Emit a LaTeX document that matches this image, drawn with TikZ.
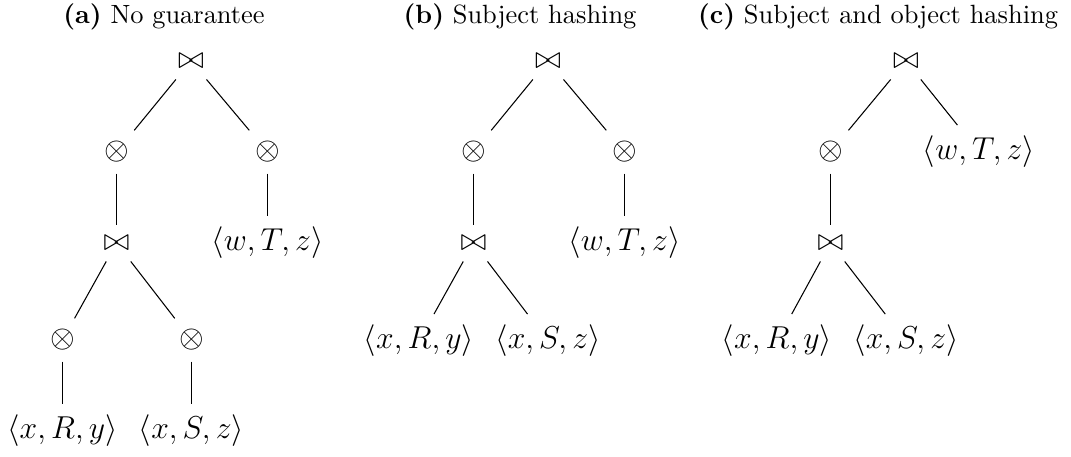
\documentclass[tikz,border=0pt]{standalone}
\usepackage{amsmath}
\begin{document}
\begin{tikzpicture}[x=0.3788pt,y=-0.3788pt,
  op/.style={inner sep=4pt,font=\fontsize{11.5}{14}\selectfont},
  leaf/.style={inner sep=4pt,font=\fontsize{11.5}{14}\selectfont},
  caption/.style={anchor=base,inner sep=0pt,font=\fontsize{10}{12}\selectfont},
  edge/.style={line width=0.4pt}]
\useasboundingbox (0,0) rectangle (1071,456);

% captions
\node[caption] (ta) at (164,23) {\textbf{(a)} No guarantee};
\node[caption] (tb) at (520,23) {\textbf{(b)} Subject hashing};
\node[caption] (tc) at (878,23) {\textbf{(c)} Subject and object hashing};

% (a) no guarantee
\node[op] (a0) at (191,61) {$\bowtie$};
\node[op] (a1) at (116.5,152) {$\otimes$};
\node[op] (a2) at (267.5,152) {$\otimes$};
\node[op] (a3) at (116.5,243) {$\bowtie$};
\node[leaf] (a4) at (267.5,243) {$\langle w, T, z\rangle$};
\node[op] (a5) at (62.5,340) {$\otimes$};
\node[op] (a6) at (191.5,340) {$\otimes$};
\node[leaf] (a7) at (62.5,431) {$\langle x, R, y\rangle$};
\node[leaf] (a8) at (191.5,431) {$\langle x, S, z\rangle$};
\draw[edge] (a0) -- (a1);
\draw[edge] (a0) -- (a2);
\draw[edge] (a1) -- (a3);
\draw[edge] (a2) -- (a4);
\draw[edge] (a3) -- (a5);
\draw[edge] (a3) -- (a6);
\draw[edge] (a5) -- (a7);
\draw[edge] (a6) -- (a8);

% (b) subject hashing
\node[op] (b0) at (548,61) {$\bowtie$};
\node[op] (b1) at (473.5,152) {$\otimes$};
\node[op] (b2) at (624.5,152) {$\otimes$};
\node[op] (b3) at (473.5,243) {$\bowtie$};
\node[leaf] (b4) at (624.5,243) {$\langle w, T, z\rangle$};
\node[leaf] (b5) at (419,341) {$\langle x, R, y\rangle$};
\node[leaf] (b6) at (548,341) {$\langle x, S, z\rangle$};
\draw[edge] (b0) -- (b1);
\draw[edge] (b0) -- (b2);
\draw[edge] (b1) -- (b3);
\draw[edge] (b2) -- (b4);
\draw[edge] (b3) -- (b5);
\draw[edge] (b3) -- (b6);

% (c) subject and object hashing
\node[op] (c0) at (906,61) {$\bowtie$};
\node[op] (c1) at (830.5,152) {$\otimes$};
\node[leaf] (c2) at (979,152) {$\langle w, T, z\rangle$};
\node[op] (c3) at (830.5,243) {$\bowtie$};
\node[leaf] (c4) at (777,341) {$\langle x, R, y\rangle$};
\node[leaf] (c5) at (906,341) {$\langle x, S, z\rangle$};
\draw[edge] (c0) -- (c1);
\draw[edge] (c0) -- (c2);
\draw[edge] (c1) -- (c3);
\draw[edge] (c3) -- (c4);
\draw[edge] (c3) -- (c5);
\end{tikzpicture}
\end{document}
